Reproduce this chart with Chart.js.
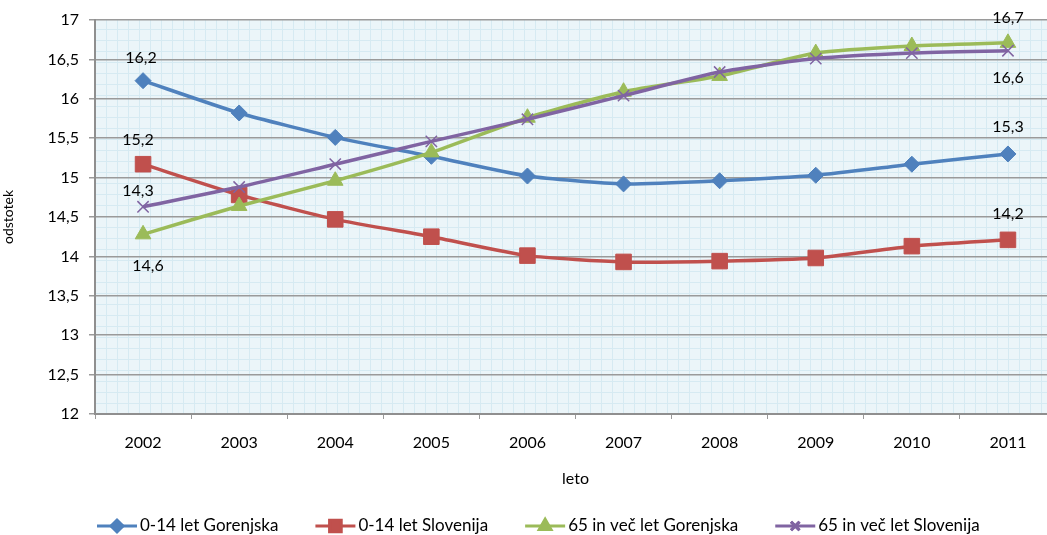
<!DOCTYPE html>
<html>
<head>
<meta charset="utf-8">
<script src="https://cdn.jsdelivr.net/npm/chart.js@4.4.1/dist/chart.umd.min.js"></script>
<style>
  html, body { margin: 0; padding: 0; background: #fff; overflow: hidden; }
  #wrap { width: 1047px; height: 535px; position: relative; overflow: hidden; }
</style>
</head>
<body>
<!-- v izvirniku risalna površina sega čez desni rob slike, zato je platno malo širše -->
<div id="wrap"><canvas id="c" width="1058" height="535"></canvas></div>
<script>
// podatki
const years = ['2002', '2003', '2004', '2005', '2006', '2007', '2008', '2009', '2010', '2011'];
const mladiGorenjska = [16.23, 15.82, 15.51, 15.27, 15.02, 14.92, 14.96, 15.03, 15.17, 15.30];
const mladiSlovenija = [15.17, 14.78, 14.47, 14.25, 14.01, 13.93, 13.94, 13.98, 14.13, 14.21];
const stariGorenjska = [14.28, 14.64, 14.96, 15.32, 15.76, 16.09, 16.29, 16.58, 16.67, 16.71];
const stariSlovenija = [14.63, 14.88, 15.17, 15.46, 15.74, 16.04, 16.34, 16.51, 16.58, 16.61];
const seriesNames = ['0-14 let Gorenjska', '0-14 let Slovenija', '65 in več let Gorenjska', '65 in več let Slovenija'];

// oznake podatkov (besedilo kot na sliki)
const dataLabels = [
  { ds: 0, i: 0, text: '16,2', dx: -2, dy: -23 },
  { ds: 1, i: 0, text: '15,2', dx: -5, dy: -24 },
  { ds: 3, i: 0, text: '14,3', dx: -5, dy: -16 },
  { ds: 2, i: 0, text: '14,6', dx: 5, dy: 32 },
  { ds: 2, i: 9, text: '16,7', dx: 0, dy: -25 },
  { ds: 3, i: 9, text: '16,6', dx: 0, dy: 27 },
  { ds: 0, i: 9, text: '15,3', dx: 0, dy: -27 },
  { ds: 1, i: 9, text: '14,2', dx: 0, dy: -26 }
];

const FONT = 'Lato, "Open Sans", sans-serif';
const FS = 16;
const colors = ['#4F81BD', '#C0504D', '#9BBB59', '#8064A2'];
const markers = [
  { style: 'rectRot', r: 8 },
  { style: 'rect', r: 11 },
  { style: 'triangle', r: 9 },
  { style: 'crossRot', r: 8 }
];

const comma = v => String(v).replace('.', ',');

// ozadje z drobno mrežo
const plotBg = {
  id: 'plotBg',
  beforeDraw(chart) {
    const { ctx, chartArea: a } = chart;
    ctx.save();
    ctx.fillStyle = '#ebf5f9';
    ctx.fillRect(a.left, a.top, a.right - a.left, a.bottom - a.top);
    ctx.strokeStyle = '#d6eaf2';
    ctx.lineWidth = 1;
    ctx.beginPath();
    for (let x = a.left + 11; x < a.right; x += 11) { ctx.moveTo(Math.round(x) + 0.5, a.top); ctx.lineTo(Math.round(x) + 0.5, a.bottom); }
    for (let y = a.bottom - 11; y > a.top; y -= 11) { ctx.moveTo(a.left, Math.round(y) + 0.5); ctx.lineTo(a.right, Math.round(y) + 0.5); }
    ctx.stroke();
    ctx.restore();
  }
};

const labelsPlugin = {
  id: 'labelsPlugin',
  afterDatasetsDraw(chart) {
    const { ctx } = chart;
    ctx.save();
    ctx.font = FS + 'px ' + FONT;
    ctx.fillStyle = '#000';
    ctx.textAlign = 'center';
    ctx.textBaseline = 'middle';
    for (const l of dataLabels) {
      const el = chart.getDatasetMeta(l.ds).data[l.i];
      ctx.fillText(l.text, el.x + l.dx, el.y + l.dy);
    }
    ctx.restore();
  }
};

const legendPlugin = {
  id: 'legendPlugin',
  afterDraw(chart) {
    const { ctx } = chart;
    ctx.save();
    ctx.font = (FS + 1) + 'px ' + FONT;
    ctx.textBaseline = 'middle';
    ctx.textAlign = 'left';
    const y = 526;
    let x = 97;
    seriesNames.forEach((name, k) => {
      ctx.strokeStyle = colors[k];
      ctx.lineWidth = 3;
      ctx.beginPath(); ctx.moveTo(x, y); ctx.lineTo(x + 40, y); ctx.stroke();
      ctx.fillStyle = colors[k];
      Chart.helpers.drawPoint(ctx, {
        pointStyle: markers[k].style, radius: markers[k].r * 0.75, rotation: 0, borderWidth: 1.5
      }, x + 20, y);
      if (markers[k].style === 'crossRot') ctx.stroke();
      ctx.fillStyle = '#000';
      ctx.fillText(name, x + 43, y);
      x += 43 + ctx.measureText(name).width + 37;
    });
    ctx.restore();
  }
};

const datasets = [mladiGorenjska, mladiSlovenija, stariGorenjska, stariSlovenija].map((d, k) => ({
  label: seriesNames[k],
  data: d,
  borderColor: colors[k],
  backgroundColor: colors[k],
  borderWidth: 3.5,
  pointStyle: markers[k].style,
  pointRadius: markers[k].r,
  pointHoverRadius: markers[k].r,
  pointBorderWidth: markers[k].style === 'crossRot' ? 1.5 : 1,
  tension: 0.2,
  order: 4 - k
}));

new Chart(document.getElementById('c'), {
  type: 'line',
  data: { labels: years, datasets },
  options: {
    responsive: false,
    animation: false,
    layout: { autoPadding: false, padding: { top: 20, right: 2, left: 0, bottom: 0 } },
    plugins: {
      legend: { display: false },
      tooltip: { enabled: false }
    },
    scales: {
      x: {
        offset: true,
        afterFit(s) { s.height = 121; s.paddingLeft = 0; s.paddingRight = 0; },
        border: { color: '#8f8f8f', width: 2 },
        grid: { drawOnChartArea: false, drawTicks: true, tickLength: 5, color: '#9a9a9a', offset: true },
        ticks: { color: '#000', font: { family: FONT, size: FS }, padding: 14 },
        title: { display: true, text: 'leto', color: '#000', font: { family: FONT, size: FS }, padding: { top: 18, bottom: 47 } }
      },
      y: {
        min: 12, max: 17,
        afterFit(s) { s.width = 95; },
        border: { color: '#8f8f8f', width: 2 },
        grid: { color: '#9a9a9a', lineWidth: 1.5, tickLength: 6 },
        ticks: { stepSize: 0.5, color: '#000', font: { family: FONT, size: FS }, padding: 10, callback: v => comma(v) },
        title: { display: true, text: 'odstotek', color: '#000', font: { family: FONT, size: 14 }, padding: { top: 0, bottom: 2 } }
      }
    }
  },
  plugins: [plotBg, labelsPlugin, legendPlugin]
});
</script>
</body>
</html>
